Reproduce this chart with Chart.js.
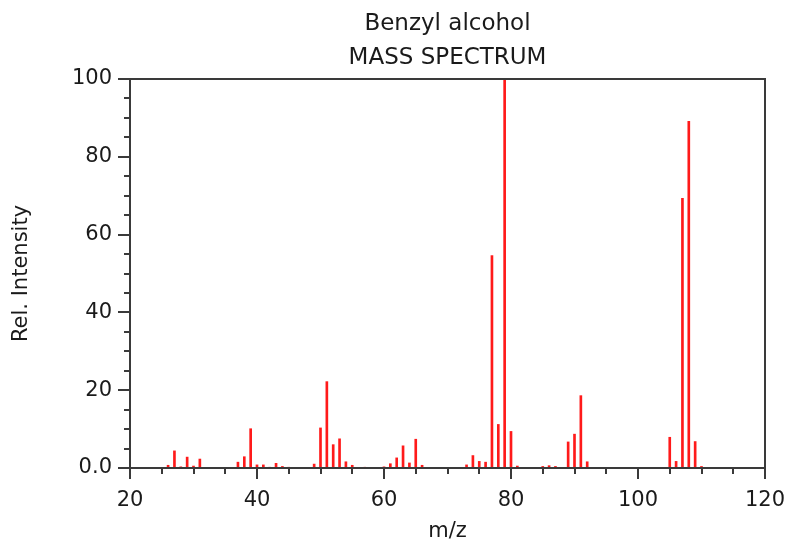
<!DOCTYPE html>
<html>
<head>
<meta charset="utf-8">
<script src="https://cdn.jsdelivr.net/npm/chart.js@4"></script>
<style>
  body { margin: 0; background: #fff; }
</style>
</head>
<body>
<canvas id="spectrum" width="788" height="540"></canvas>
<script>
// m/z values and relative intensities
const mz = [26, 27, 28, 29, 30, 31, 37, 38, 39, 40, 41, 42, 43, 44, 45,
            49, 50, 51, 52, 53, 54, 55, 57, 60, 61, 62, 63, 64, 65, 66,
            73, 74, 75, 76, 77, 78, 79, 80, 81, 85, 86, 87, 89, 90, 91, 92,
            105, 106, 107, 108, 109, 110];
const intensity = [0.7, 4.4, 0.3, 2.8, 0.5, 2.3, 1.5, 2.9, 10.1, 0.8, 0.8, 0.2, 1.2, 0.4, 0.2,
                   1.0, 10.3, 22.2, 6.0, 7.5, 1.6, 0.7, 0.2, 0.3, 1.1, 2.6, 5.7, 1.3, 7.4, 0.7,
                   0.8, 3.2, 1.7, 1.5, 54.6, 11.2, 100, 9.4, 0.5, 0.4, 0.6, 0.4, 6.7, 8.7, 18.6, 1.6,
                   7.9, 1.7, 69.3, 89.1, 6.8, 0.4];
const titleLines = ['Benzyl alcohol', 'MASS SPECTRUM'];

const FONT = 'DejaVu Sans';
const TEXT = '#1a1a1a';
const AXIS = '#3a3a3a';

// draws the frame round the plot and the major/minor tick marks
const framePlugin = {
    id: 'frame',
    afterDatasetsDraw(chart) {
        const { ctx, chartArea: a, scales: { x, y } } = chart;
        ctx.save();
        ctx.strokeStyle = AXIS;
        ctx.lineWidth = 2;
        ctx.strokeRect(a.left, a.top, a.right - a.left, a.bottom - a.top);
        ctx.beginPath();
        for (let v = x.min; v <= x.max; v += 5) {
            const px = Math.round(x.getPixelForValue(v));
            const len = v % 20 === 0 ? 11 : 6;
            ctx.moveTo(px, a.bottom);
            ctx.lineTo(px, a.bottom + len);
        }
        for (let v = y.min; v <= y.max; v += 5) {
            const py = Math.round(y.getPixelForValue(v));
            const len = v % 20 === 0 ? 12 : 6;
            ctx.moveTo(a.left, py);
            ctx.lineTo(a.left - len, py);
        }
        ctx.stroke();
        ctx.restore();
    }
};

new Chart(document.getElementById('spectrum'), {
    type: 'bar',
    data: {
        datasets: [{
            data: mz.map((m, i) => ({ x: m, y: intensity[i] })),
            backgroundColor: '#ff1a1a',
            borderWidth: 0,
            barThickness: 2
        }]
    },
    options: {
        responsive: false,
        animation: false,
        layout: { padding: { left: 0, right: 23, top: 0, bottom: 0 } },
        scales: {
            x: {
                type: 'linear',
                offset: false,
                min: 20,
                max: 120,
                grid: { display: false, drawTicks: false, offset: false },
                border: { display: false },
                ticks: { stepSize: 20, padding: 20, color: TEXT, font: { family: FONT, size: 21 } },
                title: { display: true, text: 'm/z', color: TEXT, font: { family: FONT, size: 21, lineHeight: 0.8 }, padding: 0 },
                afterFit(scale) {
                    scale.height = 72;
                    scale.paddingLeft = 0;
                    scale.paddingRight = 0;
                }
            },
            y: {
                min: 0,
                max: 100,
                grid: { display: false, drawTicks: false },
                border: { display: false },
                ticks: {
                    stepSize: 20,
                    padding: 18,
                    color: TEXT,
                    font: { family: FONT, size: 21 },
                    callback: v => v === 0 ? '0.0' : String(v)
                },
                title: { display: true, text: 'Rel. Intensity', color: TEXT, font: { family: FONT, size: 21, lineHeight: 1 }, padding: { top: 11, bottom: 0 } },
                afterFit(scale) {
                    scale.width = 130;
                    scale.paddingTop = 0;
                    scale.paddingBottom = 0;
                }
            }
        },
        plugins: {
            legend: { display: false },
            tooltip: { enabled: false },
            title: {
                display: true,
                fullSize: false,
                text: titleLines,
                color: TEXT,
                font: { family: FONT, size: 23, weight: 'normal', lineHeight: 34 / 23 },
                padding: { top: 7, bottom: 4 }
            }
        }
    },
    plugins: [framePlugin]
});
</script>
</body>
</html>
